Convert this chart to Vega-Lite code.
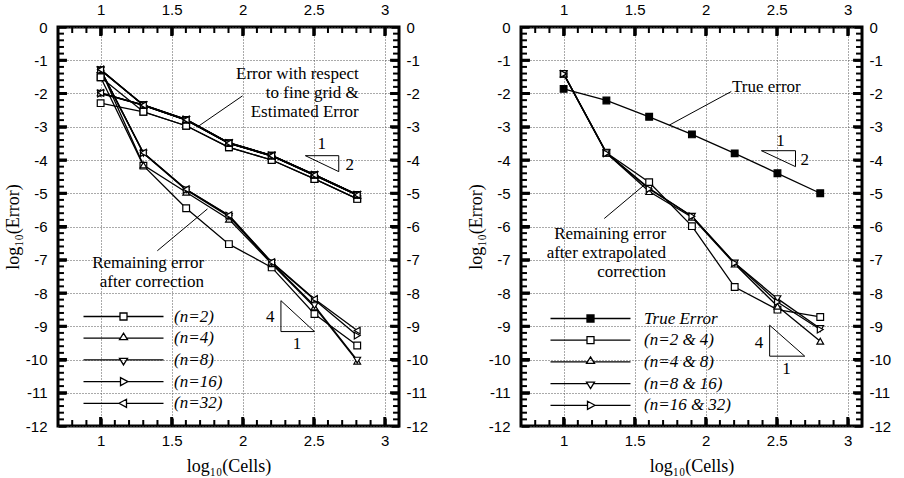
{
"$schema":"https://vega.github.io/schema/vega-lite/v6.json",
"padding":{"left":2,"top":0,"right":5,"bottom":5},
"spacing":35,
"datasets":{
"xM":[{"v":1},{"v":1.5},{"v":2},{"v":2.5},{"v":3}],
"xm":[{"v":0.8},{"v":0.9},{"v":1.1},{"v":1.2},{"v":1.3},{"v":1.4},{"v":1.6},{"v":1.7},{"v":1.8},{"v":1.9},{"v":2.1},{"v":2.2},{"v":2.3},{"v":2.4},{"v":2.6},{"v":2.7},{"v":2.8},{"v":2.9}],
"yM":[{"v":-11},{"v":-10},{"v":-9},{"v":-8},{"v":-7},{"v":-6},{"v":-5},{"v":-4},{"v":-3},{"v":-2},{"v":-1}],
"ym":[{"v":-11.8},{"v":-11.6},{"v":-11.4},{"v":-11.2},{"v":-10.8},{"v":-10.6},{"v":-10.4},{"v":-10.2},{"v":-9.8},{"v":-9.6},{"v":-9.4},{"v":-9.2},{"v":-8.8},{"v":-8.6},{"v":-8.4},{"v":-8.2},{"v":-7.8},{"v":-7.6},{"v":-7.4},{"v":-7.2},{"v":-6.8},{"v":-6.6},{"v":-6.4},{"v":-6.2},{"v":-5.8},{"v":-5.6},{"v":-5.4},{"v":-5.2},{"v":-4.8},{"v":-4.6},{"v":-4.4},{"v":-4.2},{"v":-3.8},{"v":-3.6},{"v":-3.4},{"v":-3.2},{"v":-2.8},{"v":-2.6},{"v":-2.4},{"v":-2.2},{"v":-1.8},{"v":-1.6},{"v":-1.4},{"v":-1.2},{"v":-0.8},{"v":-0.6},{"v":-0.4},{"v":-0.2}]
},
"config":{"view":{"stroke":"black","strokeWidth":3},"font":"Liberation Sans",
"axis":{"labelFont":"Liberation Sans","labelFontSize":15,"labelColor":"black","titleFont":"Liberation Serif","titleFontSize":18,"titleFontWeight":"normal","titleColor":"black","domain":false,"labelFlush":false,"labelOverlap":false,"gridColor":"#555","gridDash":[1,2],"gridWidth":1}},
"hconcat":[
{"width":341,"height":399,
"data":{"values":[
{"x":1,"y":-1.51,"s":"2f","n":"(n=2)"},{"x":1.301,"y":-2.55,"s":"2f","n":"(n=2)"},{"x":1.602,"y":-2.97,"s":"2f","n":"(n=2)"},{"x":1.903,"y":-3.62,"s":"2f","n":"(n=2)"},{"x":2.204,"y":-4.0,"s":"2f","n":"(n=2)"},{"x":2.505,"y":-4.57,"s":"2f","n":"(n=2)"},{"x":2.806,"y":-5.17,"s":"2f","n":"(n=2)"},
{"x":1,"y":-2.29,"s":"2e","n":"(n=2)"},{"x":1.301,"y":-2.55,"s":"2e","n":"(n=2)"},{"x":1.602,"y":-2.97,"s":"2e","n":"(n=2)"},{"x":1.903,"y":-3.62,"s":"2e","n":"(n=2)"},{"x":2.204,"y":-4.0,"s":"2e","n":"(n=2)"},{"x":2.505,"y":-4.57,"s":"2e","n":"(n=2)"},{"x":2.806,"y":-5.17,"s":"2e","n":"(n=2)"},
{"x":1,"y":-1.51,"s":"2r","n":"(n=2)"},{"x":1.301,"y":-4.17,"s":"2r","n":"(n=2)"},{"x":1.602,"y":-5.45,"s":"2r","n":"(n=2)"},{"x":1.903,"y":-6.53,"s":"2r","n":"(n=2)"},{"x":2.204,"y":-7.23,"s":"2r","n":"(n=2)"},{"x":2.505,"y":-8.63,"s":"2r","n":"(n=2)"},{"x":2.806,"y":-9.58,"s":"2r","n":"(n=2)"},
{"x":1,"y":-1.28,"s":"4f","n":"(n=4)"},{"x":1.301,"y":-2.36,"s":"4f","n":"(n=4)"},{"x":1.602,"y":-2.8,"s":"4f","n":"(n=4)"},{"x":1.903,"y":-3.5,"s":"4f","n":"(n=4)"},{"x":2.204,"y":-3.88,"s":"4f","n":"(n=4)"},{"x":2.505,"y":-4.46,"s":"4f","n":"(n=4)"},{"x":2.806,"y":-5.06,"s":"4f","n":"(n=4)"},
{"x":1,"y":-1.98,"s":"4e","n":"(n=4)"},{"x":1.301,"y":-2.36,"s":"4e","n":"(n=4)"},{"x":1.602,"y":-2.8,"s":"4e","n":"(n=4)"},{"x":1.903,"y":-3.5,"s":"4e","n":"(n=4)"},{"x":2.204,"y":-3.88,"s":"4e","n":"(n=4)"},{"x":2.505,"y":-4.46,"s":"4e","n":"(n=4)"},{"x":2.806,"y":-5.06,"s":"4e","n":"(n=4)"},
{"x":1,"y":-1.28,"s":"4r","n":"(n=4)"},{"x":1.301,"y":-4.15,"s":"4r","n":"(n=4)"},{"x":1.602,"y":-4.97,"s":"4r","n":"(n=4)"},{"x":1.903,"y":-5.78,"s":"4r","n":"(n=4)"},{"x":2.204,"y":-7.12,"s":"4r","n":"(n=4)"},{"x":2.505,"y":-8.42,"s":"4r","n":"(n=4)"},{"x":2.806,"y":-10.05,"s":"4r","n":"(n=4)"},
{"x":1,"y":-1.29,"s":"8f","n":"(n=8)"},{"x":1.301,"y":-2.34,"s":"8f","n":"(n=8)"},{"x":1.602,"y":-2.78,"s":"8f","n":"(n=8)"},{"x":1.903,"y":-3.48,"s":"8f","n":"(n=8)"},{"x":2.204,"y":-3.86,"s":"8f","n":"(n=8)"},{"x":2.505,"y":-4.44,"s":"8f","n":"(n=8)"},{"x":2.806,"y":-5.04,"s":"8f","n":"(n=8)"},
{"x":1,"y":-1.99,"s":"8e","n":"(n=8)"},{"x":1.301,"y":-2.34,"s":"8e","n":"(n=8)"},{"x":1.602,"y":-2.78,"s":"8e","n":"(n=8)"},{"x":1.903,"y":-3.48,"s":"8e","n":"(n=8)"},{"x":2.204,"y":-3.86,"s":"8e","n":"(n=8)"},{"x":2.505,"y":-4.44,"s":"8e","n":"(n=8)"},{"x":2.806,"y":-5.04,"s":"8e","n":"(n=8)"},
{"x":1,"y":-1.29,"s":"8r","n":"(n=8)"},{"x":1.301,"y":-3.8,"s":"8r","n":"(n=8)"},{"x":1.602,"y":-4.9,"s":"8r","n":"(n=8)"},{"x":1.903,"y":-5.7,"s":"8r","n":"(n=8)"},{"x":2.204,"y":-7.1,"s":"8r","n":"(n=8)"},{"x":2.505,"y":-8.38,"s":"8r","n":"(n=8)"},{"x":2.806,"y":-10.02,"s":"8r","n":"(n=8)"},
{"x":1,"y":-1.3,"s":"16f","n":"(n=16)"},{"x":1.301,"y":-2.35,"s":"16f","n":"(n=16)"},{"x":1.602,"y":-2.79,"s":"16f","n":"(n=16)"},{"x":1.903,"y":-3.49,"s":"16f","n":"(n=16)"},{"x":2.204,"y":-3.87,"s":"16f","n":"(n=16)"},{"x":2.505,"y":-4.45,"s":"16f","n":"(n=16)"},{"x":2.806,"y":-5.05,"s":"16f","n":"(n=16)"},
{"x":1,"y":-2.0,"s":"16e","n":"(n=16)"},{"x":1.301,"y":-2.35,"s":"16e","n":"(n=16)"},{"x":1.602,"y":-2.79,"s":"16e","n":"(n=16)"},{"x":1.903,"y":-3.49,"s":"16e","n":"(n=16)"},{"x":2.204,"y":-3.87,"s":"16e","n":"(n=16)"},{"x":2.505,"y":-4.45,"s":"16e","n":"(n=16)"},{"x":2.806,"y":-5.05,"s":"16e","n":"(n=16)"},
{"x":1,"y":-1.3,"s":"16r","n":"(n=16)"},{"x":1.301,"y":-3.79,"s":"16r","n":"(n=16)"},{"x":1.602,"y":-4.89,"s":"16r","n":"(n=16)"},{"x":1.903,"y":-5.67,"s":"16r","n":"(n=16)"},{"x":2.204,"y":-7.08,"s":"16r","n":"(n=16)"},{"x":2.505,"y":-8.2,"s":"16r","n":"(n=16)"},{"x":2.806,"y":-9.28,"s":"16r","n":"(n=16)"},
{"x":1,"y":-1.28,"s":"32f","n":"(n=32)"},{"x":1.301,"y":-2.35,"s":"32f","n":"(n=32)"},{"x":1.602,"y":-2.79,"s":"32f","n":"(n=32)"},{"x":1.903,"y":-3.49,"s":"32f","n":"(n=32)"},{"x":2.204,"y":-3.87,"s":"32f","n":"(n=32)"},{"x":2.505,"y":-4.45,"s":"32f","n":"(n=32)"},{"x":2.806,"y":-5.05,"s":"32f","n":"(n=32)"},
{"x":1,"y":-1.98,"s":"32e","n":"(n=32)"},{"x":1.301,"y":-2.35,"s":"32e","n":"(n=32)"},{"x":1.602,"y":-2.79,"s":"32e","n":"(n=32)"},{"x":1.903,"y":-3.49,"s":"32e","n":"(n=32)"},{"x":2.204,"y":-3.87,"s":"32e","n":"(n=32)"},{"x":2.505,"y":-4.45,"s":"32e","n":"(n=32)"},{"x":2.806,"y":-5.05,"s":"32e","n":"(n=32)"},
{"x":1,"y":-1.28,"s":"32r","n":"(n=32)"},{"x":1.301,"y":-3.78,"s":"32r","n":"(n=32)"},{"x":1.602,"y":-4.88,"s":"32r","n":"(n=32)"},{"x":1.903,"y":-5.66,"s":"32r","n":"(n=32)"},{"x":2.204,"y":-7.07,"s":"32r","n":"(n=32)"},{"x":2.505,"y":-8.18,"s":"32r","n":"(n=32)"},{"x":2.806,"y":-9.13,"s":"32r","n":"(n=32)"}
]},
"layer":[
{"mark":{"type":"line","color":"black","strokeWidth":1.3},
"encoding":{
"x":{"field":"x","type":"quantitative","scale":{"domain":[0.7,3.1],"nice":false,"zero":false},
"axis":{"orient":"bottom","values":[1,1.5,2,2.5,3],"title":"log₁₀(Cells)","grid":true,"ticks":true,"offset":-8,"tickSize":8,"tickWidth":2.5,"tickColor":"black","labelExpr":"''+datum.value","labelPadding":7,"titlePadding":9}},
"y":{"field":"y","type":"quantitative","scale":{"domain":[-12,0],"nice":false,"zero":false},
"axis":{"orient":"left","values":[-12,-11,-10,-9,-8,-7,-6,-5,-4,-3,-2,-1,0],"title":"log₁₀(Error)","grid":true,"ticks":true,"offset":-8,"tickSize":8,"tickWidth":2.5,"tickColor":"black","labelExpr":"''+datum.value","labelPadding":11,"titlePadding":3}},
"detail":{"field":"s","type":"nominal"}}},
{"mark":{"type":"point","filled":true,"fill":"white","stroke":"black","strokeWidth":1.2,"size":45,"opacity":1},
"encoding":{
"x":{"field":"x","type":"quantitative",
"axis":{"orient":"top","values":[1,1.5,2,2.5,3],"title":null,"grid":false,"ticks":true,"offset":-8,"tickSize":8,"tickWidth":2.5,"tickColor":"black","labelExpr":"''+datum.value","labelPadding":10}},
"y":{"field":"y","type":"quantitative",
"axis":{"orient":"right","values":[-12,-11,-10,-9,-8,-7,-6,-5,-4,-3,-2,-1,0],"title":null,"grid":false,"ticks":true,"offset":-8,"tickSize":8,"tickWidth":2.5,"tickColor":"black","labelExpr":"''+datum.value","labelPadding":7}},
"shape":{"field":"n","type":"nominal","scale":{"domain":["(n=2)","(n=4)","(n=8)","(n=16)","(n=32)"],"range":["square","triangle-up","triangle-down","triangle-right","triangle-left"]},"legend":null}}},
{"mark":{"type":"point","opacity":0,"size":4,"filled":false,"stroke":"black"},
"encoding":{"shape":{"field":"n","type":"nominal","scale":{"domain":["(n=2)","(n=4)","(n=8)","(n=16)","(n=32)"],"range":["M-40,0H-3.5M3.5,0H40M-3.5,-3.5H3.5V3.5H-3.5Z","M-40,0H-3.1M3.1,0H40M0,-5L4,1.5H-4Z","M-40,0H-3.1M3.1,0H40M0,5L4,-1.5H-4Z","M-40,0H-3M4.5,0H40M4.5,0L-3,-4V4Z","M-40,0H-4.5M3,0H40M-4.5,0L3,-4V4Z"]},
"legend":{"orient":"none","legendX":57,"legendY":281,"title":null,"padding":0,"symbolSize":4,"symbolOpacity":1,"symbolStrokeColor":"black","symbolFillColor":"white","symbolStrokeWidth":1.3,"labelFont":"Liberation Serif","labelFontStyle":"italic","labelFontSize":17,"labelColor":"black","labelOffset":42,"rowPadding":3.7}}}},
{"data":{"name":"xM"},"mark":{"type":"rule","color":"black","strokeWidth":3},"encoding":{"x":{"field":"v","type":"quantitative","axis":null},"y":{"datum":-12,"type":"quantitative","axis":null},"y2":{"datum":-11.73}}},
{"data":{"name":"xm"},"mark":{"type":"rule","color":"black","strokeWidth":2},"encoding":{"x":{"field":"v","type":"quantitative","axis":null},"y":{"datum":-12,"type":"quantitative","axis":null},"y2":{"datum":-11.82}}},
{"data":{"name":"xM"},"mark":{"type":"rule","color":"black","strokeWidth":3},"encoding":{"x":{"field":"v","type":"quantitative","axis":null},"y":{"datum":0,"type":"quantitative","axis":null},"y2":{"datum":-0.27}}},
{"data":{"name":"xm"},"mark":{"type":"rule","color":"black","strokeWidth":2},"encoding":{"x":{"field":"v","type":"quantitative","axis":null},"y":{"datum":0,"type":"quantitative","axis":null},"y2":{"datum":-0.18}}},
{"data":{"name":"yM"},"mark":{"type":"rule","color":"black","strokeWidth":3},"encoding":{"y":{"field":"v","type":"quantitative","axis":null},"x":{"datum":0.7,"type":"quantitative","axis":null},"x2":{"datum":0.763}}},
{"data":{"name":"ym"},"mark":{"type":"rule","color":"black","strokeWidth":2},"encoding":{"y":{"field":"v","type":"quantitative","axis":null},"x":{"datum":0.7,"type":"quantitative","axis":null},"x2":{"datum":0.742}}},
{"data":{"name":"yM"},"mark":{"type":"rule","color":"black","strokeWidth":3},"encoding":{"y":{"field":"v","type":"quantitative","axis":null},"x":{"datum":3.1,"type":"quantitative","axis":null},"x2":{"datum":3.037}}},
{"data":{"name":"ym"},"mark":{"type":"rule","color":"black","strokeWidth":2},"encoding":{"y":{"field":"v","type":"quantitative","axis":null},"x":{"datum":3.1,"type":"quantitative","axis":null},"x2":{"datum":3.058}}},
{"data":{"values":[{}]},"mark":{"type":"text","text":["Error with respect","to fine grid &","Estimated Error"],"align":"right","baseline":"middle","font":"Liberation Serif","fontSize":17,"lineHeight":19},
"encoding":{"x":{"datum":2.817,"type":"quantitative","axis":null},"y":{"datum":-1.41,"type":"quantitative","axis":null}}},
{"data":{"values":[{}]},"mark":{"type":"text","text":["Remaining error","after correction"],"align":"right","baseline":"middle","font":"Liberation Serif","fontSize":17,"lineHeight":19},
"encoding":{"x":{"datum":1.728,"type":"quantitative","axis":null},"y":{"datum":-7.1,"type":"quantitative","axis":null}}},
{"data":{"values":[{}]},"mark":{"type":"text","text":"1","align":"center","baseline":"middle","font":"Liberation Serif","fontSize":17},
"encoding":{"x":{"datum":2.556,"type":"quantitative","axis":null},"y":{"datum":-3.52,"type":"quantitative","axis":null}}},
{"data":{"values":[{}]},"mark":{"type":"text","text":"2","align":"center","baseline":"middle","font":"Liberation Serif","fontSize":17},
"encoding":{"x":{"datum":2.754,"type":"quantitative","axis":null},"y":{"datum":-4.15,"type":"quantitative","axis":null}}},
{"data":{"values":[{}]},"mark":{"type":"text","text":"4","align":"center","baseline":"middle","font":"Liberation Serif","fontSize":17},
"encoding":{"x":{"datum":2.194,"type":"quantitative","axis":null},"y":{"datum":-8.73,"type":"quantitative","axis":null}}},
{"data":{"values":[{}]},"mark":{"type":"text","text":"1","align":"center","baseline":"middle","font":"Liberation Serif","fontSize":17},
"encoding":{"x":{"datum":2.382,"type":"quantitative","axis":null},"y":{"datum":-9.53,"type":"quantitative","axis":null}}},
{"data":{"values":[{}]},"mark":{"type":"rule","color":"black","strokeWidth":1},
"encoding":{"x":{"datum":2.441,"type":"quantitative","axis":null},"y":{"datum":-3.87,"type":"quantitative","axis":null},"x2":{"datum":2.676},"y2":{"datum":-3.87}}},
{"data":{"values":[{}]},"mark":{"type":"rule","color":"black","strokeWidth":1},
"encoding":{"x":{"datum":2.676,"type":"quantitative","axis":null},"y":{"datum":-3.87,"type":"quantitative","axis":null},"x2":{"datum":2.676},"y2":{"datum":-4.35}}},
{"data":{"values":[{}]},"mark":{"type":"rule","color":"black","strokeWidth":1},
"encoding":{"x":{"datum":2.441,"type":"quantitative","axis":null},"y":{"datum":-3.87,"type":"quantitative","axis":null},"x2":{"datum":2.676},"y2":{"datum":-4.35}}},
{"data":{"values":[{}]},"mark":{"type":"rule","color":"black","strokeWidth":1},
"encoding":{"x":{"datum":2.269,"type":"quantitative","axis":null},"y":{"datum":-8.23,"type":"quantitative","axis":null},"x2":{"datum":2.269},"y2":{"datum":-9.16}}},
{"data":{"values":[{}]},"mark":{"type":"rule","color":"black","strokeWidth":1},
"encoding":{"x":{"datum":2.269,"type":"quantitative","axis":null},"y":{"datum":-9.16,"type":"quantitative","axis":null},"x2":{"datum":2.505},"y2":{"datum":-9.16}}},
{"data":{"values":[{}]},"mark":{"type":"rule","color":"black","strokeWidth":1},
"encoding":{"x":{"datum":2.269,"type":"quantitative","axis":null},"y":{"datum":-8.23,"type":"quantitative","axis":null},"x2":{"datum":2.505},"y2":{"datum":-9.16}}},
{"data":{"values":[{}]},"mark":{"type":"rule","color":"black","strokeWidth":1},
"encoding":{"x":{"datum":1.999,"type":"quantitative","axis":null},"y":{"datum":-2.07,"type":"quantitative","axis":null},"x2":{"datum":1.693},"y2":{"datum":-2.97}}},
{"data":{"values":[{}]},"mark":{"type":"rule","color":"black","strokeWidth":1},
"encoding":{"x":{"datum":1.399,"type":"quantitative","axis":null},"y":{"datum":-6.73,"type":"quantitative","axis":null},"x2":{"datum":1.752},"y2":{"datum":-5.47}}}
],
"resolve":{"axis":{"x":"independent","y":"independent"},"scale":{"shape":"independent"}}},
{"width":341,"height":399,
"data":{"values":[
{"x":1,"y":-1.86,"n":"True Error"},{"x":1.301,"y":-2.21,"n":"True Error"},{"x":1.602,"y":-2.7,"n":"True Error"},{"x":1.903,"y":-3.23,"n":"True Error"},{"x":2.204,"y":-3.8,"n":"True Error"},{"x":2.505,"y":-4.4,"n":"True Error"},{"x":2.806,"y":-5.0,"n":"True Error"},
{"x":1,"y":-1.41,"n":"(n=2 & 4)"},{"x":1.301,"y":-3.78,"n":"(n=2 & 4)"},{"x":1.602,"y":-4.67,"n":"(n=2 & 4)"},{"x":1.903,"y":-5.99,"n":"(n=2 & 4)"},{"x":2.204,"y":-7.82,"n":"(n=2 & 4)"},{"x":2.505,"y":-8.5,"n":"(n=2 & 4)"},{"x":2.806,"y":-8.72,"n":"(n=2 & 4)"},
{"x":1,"y":-1.41,"n":"(n=4 & 8)"},{"x":1.301,"y":-3.79,"n":"(n=4 & 8)"},{"x":1.602,"y":-4.95,"n":"(n=4 & 8)"},{"x":1.903,"y":-5.72,"n":"(n=4 & 8)"},{"x":2.204,"y":-7.13,"n":"(n=4 & 8)"},{"x":2.505,"y":-8.4,"n":"(n=4 & 8)"},{"x":2.806,"y":-9.45,"n":"(n=4 & 8)"},
{"x":1,"y":-1.4,"n":"(n=8 & 16)"},{"x":1.301,"y":-3.78,"n":"(n=8 & 16)"},{"x":1.602,"y":-4.85,"n":"(n=8 & 16)"},{"x":1.903,"y":-5.69,"n":"(n=8 & 16)"},{"x":2.204,"y":-7.1,"n":"(n=8 & 16)"},{"x":2.505,"y":-8.17,"n":"(n=8 & 16)"},{"x":2.806,"y":-9.07,"n":"(n=8 & 16)"},
{"x":1,"y":-1.41,"n":"(n=16 & 32)"},{"x":1.301,"y":-3.8,"n":"(n=16 & 32)"},{"x":1.602,"y":-4.87,"n":"(n=16 & 32)"},{"x":1.903,"y":-5.69,"n":"(n=16 & 32)"},{"x":2.204,"y":-7.1,"n":"(n=16 & 32)"},{"x":2.505,"y":-8.27,"n":"(n=16 & 32)"},{"x":2.806,"y":-9.1,"n":"(n=16 & 32)"}
]},
"layer":[
{"mark":{"type":"line","color":"black","strokeWidth":1.3},
"encoding":{
"x":{"field":"x","type":"quantitative","scale":{"domain":[0.7,3.1],"nice":false,"zero":false},
"axis":{"orient":"bottom","values":[1,1.5,2,2.5,3],"title":"log₁₀(Cells)","grid":true,"ticks":true,"offset":-8,"tickSize":8,"tickWidth":2.5,"tickColor":"black","labelExpr":"''+datum.value","labelPadding":7,"titlePadding":9}},
"y":{"field":"y","type":"quantitative","scale":{"domain":[-12,0],"nice":false,"zero":false},
"axis":{"orient":"left","values":[-12,-11,-10,-9,-8,-7,-6,-5,-4,-3,-2,-1,0],"title":"log₁₀(Error)","grid":true,"ticks":true,"offset":-8,"tickSize":8,"tickWidth":2.5,"tickColor":"black","labelExpr":"''+datum.value","labelPadding":11,"titlePadding":3}},
"detail":{"field":"n","type":"nominal"}}},
{"mark":{"type":"point","filled":true,"stroke":"black","strokeWidth":1.2,"size":45,"opacity":1},
"encoding":{
"x":{"field":"x","type":"quantitative",
"axis":{"orient":"top","values":[1,1.5,2,2.5,3],"title":null,"grid":false,"ticks":true,"offset":-8,"tickSize":8,"tickWidth":2.5,"tickColor":"black","labelExpr":"''+datum.value","labelPadding":10}},
"y":{"field":"y","type":"quantitative",
"axis":{"orient":"right","values":[-12,-11,-10,-9,-8,-7,-6,-5,-4,-3,-2,-1,0],"title":null,"grid":false,"ticks":true,"offset":-8,"tickSize":8,"tickWidth":2.5,"tickColor":"black","labelExpr":"''+datum.value","labelPadding":7}},
"shape":{"field":"n","type":"nominal","scale":{"domain":["True Error","(n=2 & 4)","(n=4 & 8)","(n=8 & 16)","(n=16 & 32)"],"range":["square","square","triangle-up","triangle-down","triangle-right"]},"legend":null},
"fill":{"field":"n","type":"nominal","scale":{"domain":["True Error","(n=2 & 4)","(n=4 & 8)","(n=8 & 16)","(n=16 & 32)"],"range":["black","white","white","white","white"]},"legend":null}}},
{"mark":{"type":"point","opacity":0,"size":4,"filled":false,"stroke":"black"},
"encoding":{"shape":{"field":"n","type":"nominal","scale":{"domain":["True Error","(n=2 & 4)","(n=4 & 8)","(n=8 & 16)","(n=16 & 32)"],"range":["M-40,0H-3.5M3.5,0H40M-3.5,-3.5H3.5V3.5H-3.5ZM-3.5,-2.5H3.5M-3.5,-1.5H3.5M-3.5,-0.5H3.5M-3.5,0.5H3.5M-3.5,1.5H3.5M-3.5,2.5H3.5","M-40,0H-3.5M3.5,0H40M-3.5,-3.5H3.5V3.5H-3.5Z","M-40,0H-3.1M3.1,0H40M0,-5L4,1.5H-4Z","M-40,0H-3.1M3.1,0H40M0,5L4,-1.5H-4Z","M-40,0H-3M4.5,0H40M4.5,0L-3,-4V4Z"]},
"legend":{"orient":"none","legendX":61,"legendY":283,"title":null,"padding":0,"symbolSize":4,"symbolOpacity":1,"symbolStrokeColor":"black","symbolFillColor":"white","symbolStrokeWidth":1.3,"labelFont":"Liberation Serif","labelFontStyle":"italic","labelFontSize":17,"labelColor":"black","labelOffset":45,"rowPadding":3.7}}}},
{"data":{"name":"xM"},"mark":{"type":"rule","color":"black","strokeWidth":3},"encoding":{"x":{"field":"v","type":"quantitative","axis":null},"y":{"datum":-12,"type":"quantitative","axis":null},"y2":{"datum":-11.73}}},
{"data":{"name":"xm"},"mark":{"type":"rule","color":"black","strokeWidth":2},"encoding":{"x":{"field":"v","type":"quantitative","axis":null},"y":{"datum":-12,"type":"quantitative","axis":null},"y2":{"datum":-11.82}}},
{"data":{"name":"xM"},"mark":{"type":"rule","color":"black","strokeWidth":3},"encoding":{"x":{"field":"v","type":"quantitative","axis":null},"y":{"datum":0,"type":"quantitative","axis":null},"y2":{"datum":-0.27}}},
{"data":{"name":"xm"},"mark":{"type":"rule","color":"black","strokeWidth":2},"encoding":{"x":{"field":"v","type":"quantitative","axis":null},"y":{"datum":0,"type":"quantitative","axis":null},"y2":{"datum":-0.18}}},
{"data":{"name":"yM"},"mark":{"type":"rule","color":"black","strokeWidth":3},"encoding":{"y":{"field":"v","type":"quantitative","axis":null},"x":{"datum":0.7,"type":"quantitative","axis":null},"x2":{"datum":0.763}}},
{"data":{"name":"ym"},"mark":{"type":"rule","color":"black","strokeWidth":2},"encoding":{"y":{"field":"v","type":"quantitative","axis":null},"x":{"datum":0.7,"type":"quantitative","axis":null},"x2":{"datum":0.742}}},
{"data":{"name":"yM"},"mark":{"type":"rule","color":"black","strokeWidth":3},"encoding":{"y":{"field":"v","type":"quantitative","axis":null},"x":{"datum":3.1,"type":"quantitative","axis":null},"x2":{"datum":3.037}}},
{"data":{"name":"ym"},"mark":{"type":"rule","color":"black","strokeWidth":2},"encoding":{"y":{"field":"v","type":"quantitative","axis":null},"x":{"datum":3.1,"type":"quantitative","axis":null},"x2":{"datum":3.058}}},
{"data":{"values":[{}]},"mark":{"type":"text","text":"True error","align":"center","baseline":"middle","font":"Liberation Serif","fontSize":17},
"encoding":{"x":{"datum":2.427,"type":"quantitative","axis":null},"y":{"datum":-1.79,"type":"quantitative","axis":null}}},
{"data":{"values":[{}]},"mark":{"type":"text","text":["Remaining error","after extrapolated","correction"],"align":"right","baseline":"middle","font":"Liberation Serif","fontSize":17,"lineHeight":19},
"encoding":{"x":{"datum":1.721,"type":"quantitative","axis":null},"y":{"datum":-6.24,"type":"quantitative","axis":null}}},
{"data":{"values":[{}]},"mark":{"type":"text","text":"1","align":"center","baseline":"middle","font":"Liberation Serif","fontSize":17},
"encoding":{"x":{"datum":2.526,"type":"quantitative","axis":null},"y":{"datum":-3.42,"type":"quantitative","axis":null}}},
{"data":{"values":[{}]},"mark":{"type":"text","text":"2","align":"center","baseline":"middle","font":"Liberation Serif","fontSize":17},
"encoding":{"x":{"datum":2.697,"type":"quantitative","axis":null},"y":{"datum":-4.0,"type":"quantitative","axis":null}}},
{"data":{"values":[{}]},"mark":{"type":"text","text":"4","align":"center","baseline":"middle","font":"Liberation Serif","fontSize":17},
"encoding":{"x":{"datum":2.375,"type":"quantitative","axis":null},"y":{"datum":-9.5,"type":"quantitative","axis":null}}},
{"data":{"values":[{}]},"mark":{"type":"text","text":"1","align":"center","baseline":"middle","font":"Liberation Serif","fontSize":17},
"encoding":{"x":{"datum":2.568,"type":"quantitative","axis":null},"y":{"datum":-10.28,"type":"quantitative","axis":null}}},
{"data":{"values":[{}]},"mark":{"type":"rule","color":"black","strokeWidth":1},
"encoding":{"x":{"datum":2.392,"type":"quantitative","axis":null},"y":{"datum":-3.72,"type":"quantitative","axis":null},"x2":{"datum":2.632},"y2":{"datum":-3.72}}},
{"data":{"values":[{}]},"mark":{"type":"rule","color":"black","strokeWidth":1},
"encoding":{"x":{"datum":2.632,"type":"quantitative","axis":null},"y":{"datum":-3.72,"type":"quantitative","axis":null},"x2":{"datum":2.632},"y2":{"datum":-4.2}}},
{"data":{"values":[{}]},"mark":{"type":"rule","color":"black","strokeWidth":1},
"encoding":{"x":{"datum":2.392,"type":"quantitative","axis":null},"y":{"datum":-3.72,"type":"quantitative","axis":null},"x2":{"datum":2.632},"y2":{"datum":-4.2}}},
{"data":{"values":[{}]},"mark":{"type":"rule","color":"black","strokeWidth":1},
"encoding":{"x":{"datum":2.45,"type":"quantitative","axis":null},"y":{"datum":-8.97,"type":"quantitative","axis":null},"x2":{"datum":2.45},"y2":{"datum":-9.9}}},
{"data":{"values":[{}]},"mark":{"type":"rule","color":"black","strokeWidth":1},
"encoding":{"x":{"datum":2.45,"type":"quantitative","axis":null},"y":{"datum":-9.9,"type":"quantitative","axis":null},"x2":{"datum":2.697},"y2":{"datum":-9.9}}},
{"data":{"values":[{}]},"mark":{"type":"rule","color":"black","strokeWidth":1},
"encoding":{"x":{"datum":2.45,"type":"quantitative","axis":null},"y":{"datum":-8.97,"type":"quantitative","axis":null},"x2":{"datum":2.697},"y2":{"datum":-9.9}}},
{"data":{"values":[{}]},"mark":{"type":"rule","color":"black","strokeWidth":1},
"encoding":{"x":{"datum":2.18,"type":"quantitative","axis":null},"y":{"datum":-1.94,"type":"quantitative","axis":null},"x2":{"datum":1.744},"y2":{"datum":-2.95}}},
{"data":{"values":[{}]},"mark":{"type":"rule","color":"black","strokeWidth":1},
"encoding":{"x":{"datum":1.286,"type":"quantitative","axis":null},"y":{"datum":-5.76,"type":"quantitative","axis":null},"x2":{"datum":1.568},"y2":{"datum":-4.75}}}
],
"resolve":{"axis":{"x":"independent","y":"independent"},"scale":{"shape":"independent","fill":"independent"}}}
]
}
